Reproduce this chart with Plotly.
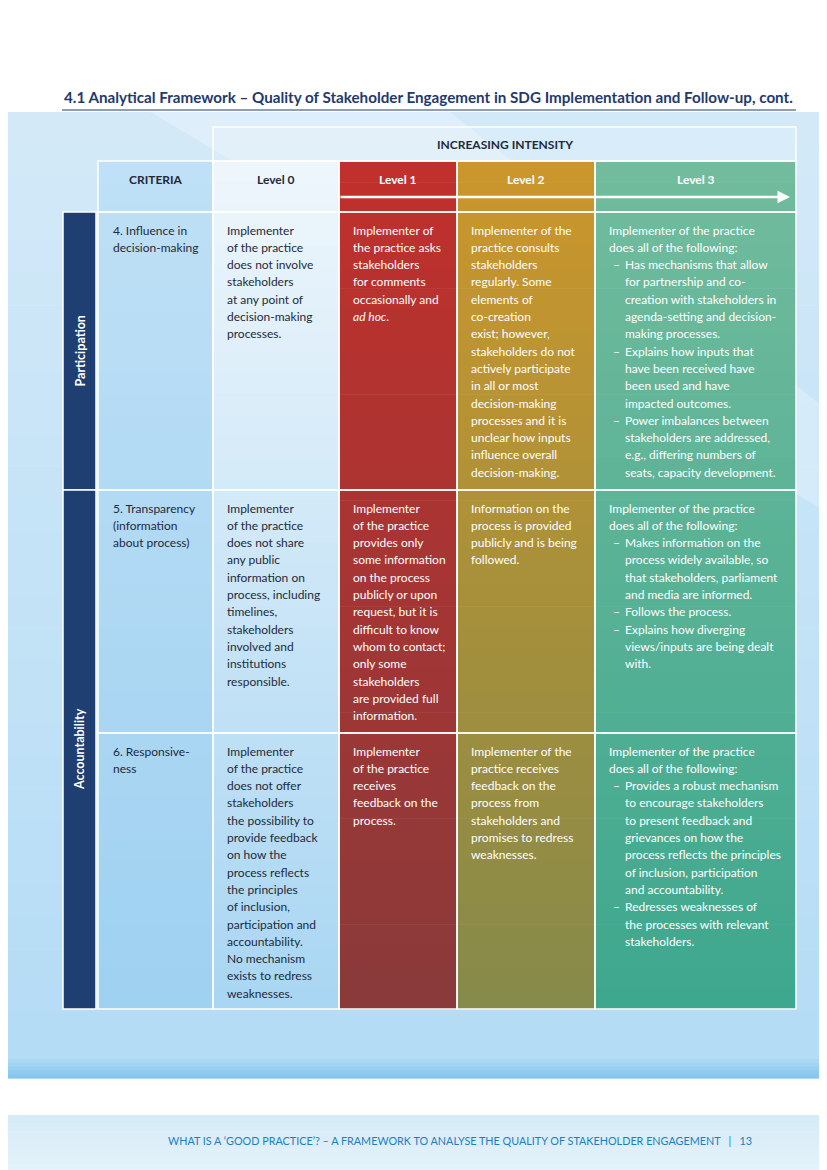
import plotly.graph_objects as go

# ---- data ----
title = "4.1 Analytical Framework – Quality of Stakeholder Engagement in SDG Implementation and Follow-up, cont."
footer = "WHAT IS A ‘GOOD PRACTICE’? – A FRAMEWORK TO ANALYSE THE QUALITY OF STAKEHOLDER ENGAGEMENT"
page_no = "13"
levels = ["Level 0", "Level 1", "Level 2", "Level 3"]
groups = ["Participation", "Accountability"]

criteria = [
    ["4. Influence in", "decision-making"],
    ["5. Transparency", "(information", "about process)"],
    ["6. Responsive-", "ness"],
]
level0 = [
    ["Implementer", "of the practice", "does not involve", "stakeholders", "at any point of",
     "decision-making", "processes."],
    ["Implementer", "of the practice", "does not share", "any public", "information on",
     "process, including", "timelines,", "stakeholders", "involved and", "institutions", "responsible."],
    ["Implementer", "of the practice", "does not offer", "stakeholders", "the possibility to",
     "provide feedback", "on how the", "process reflects", "the principles", "of inclusion,",
     "participation and", "accountability.", "No mechanism", "exists to redress", "weaknesses."],
]
level1 = [
    ["Implementer of", "the practice asks", "stakeholders", "for comments", "occasionally and", "<i>ad hoc</i>."],
    ["Implementer", "of the practice", "provides only", "some information", "on the process",
     "publicly or upon", "request, but it is", "difficult to know", "whom to contact;", "only some",
     "stakeholders", "are provided full", "information."],
    ["Implementer", "of the practice", "receives", "feedback on the", "process."],
]
level2 = [
    ["Implementer of the", "practice consults", "stakeholders", "regularly. Some", "elements of",
     "co-creation", "exist; however,", "stakeholders do not", "actively participate", "in all or most",
     "decision-making", "processes and it is", "unclear how inputs", "influence overall", "decision-making."],
    ["Information on the", "process is provided", "publicly and is being", "followed."],
    ["Implementer of the", "practice receives", "feedback on the", "process from", "stakeholders and",
     "promises to redress", "weaknesses."],
]
level3_intro = ["Implementer of the practice", "does all of the following:"]
level3_bullets = [
    [["Has mechanisms that allow", "for partnership and co-", "creation with stakeholders in",
      "agenda-setting and decision-", "making processes."],
     ["Explains how inputs that", "have been received have", "been used and have", "impacted outcomes."],
     ["Power imbalances between", "stakeholders are addressed,", "e.g., differing numbers of",
      "seats, capacity development."]],
    [["Makes information on the", "process widely available, so", "that stakeholders, parliament",
      "and media are informed."],
     ["Follows the process."],
     ["Explains how diverging", "views/inputs are being dealt", "with."]],
    [["Provides a robust mechanism", "to encourage stakeholders", "to present feedback and",
      "grievances on how the", "process reflects the principles", "of inclusion, participation",
      "and accountability."],
     ["Redresses weaknesses of", "the processes with relevant", "stakeholders."]],
]

# ---- geometry (page pixels) ----
col_x = [63, 98, 213, 339, 457, 595, 796]
row_y = [212, 490, 733, 1009]
group_rows = [(212, 490), (490, 1009)]
LH = 17.3
FONT = "Lato"
DARK = "#1e2a3a"
NAVY = "#1f3f73"
OFF = 8  # page body margin in the browser

shapes = []
ann = []


def hexmix(a, b, t):
    a = [int(a[i:i + 2], 16) for i in (1, 3, 5)]
    b = [int(b[i:i + 2], 16) for i in (1, 3, 5)]
    return "#%02x%02x%02x" % tuple(round(a[k] + (b[k] - a[k]) * t) for k in range(3))


def gradient(x0, x1, y0, y1, ctop, cbot, n=40):
    h = (y1 - y0) / n
    for i in range(n):
        shapes.append(dict(type="rect", xref="x", yref="y", x0=x0, x1=x1,
                           y0=y0 + i * h, y1=y0 + (i + 1) * h + 0.6,
                           fillcolor=hexmix(ctop, cbot, i / (n - 1)), line_width=0, layer="below"))


def rect(x0, x1, y0, y1, fill="rgba(0,0,0,0)", line="white", lw=1.5):
    shapes.append(dict(type="rect", xref="x", yref="y", x0=x0, x1=x1, y0=y0, y1=y1,
                       fillcolor=fill, line=dict(color=line, width=lw), layer="below"))


def text(x, y, s, color=DARK, size=12, bold=False, anchor="left", **kw):
    ann.append(dict(x=x, y=y, xref="x", yref="y", text=f"<b>{s}</b>" if bold else s,
                    showarrow=False, xanchor=anchor, yanchor="middle",
                    font=dict(family=FONT, size=size, color=color), **kw))


def lines(x, y, ls, color=DARK):
    for i, s in enumerate(ls):
        text(x, y + i * LH, s, color)
    return y + len(ls) * LH


# page background
gradient(-10, 840, 112, 1078, "#d3e9f8", "#b4dcf5", 30)
gradient(-10, 840, 1055, 1078, "#b4dcf5", "#86c6ee", 6)
gradient(-10, 840, 1115, 1180, "#d6ebf8", "#e6f3fb", 8)
shapes.append(dict(type="path", xref="x", yref="y", path="M 150 112 L 450 112 L 840 420 L 840 520 Z",
                   fillcolor="rgba(255,255,255,0.25)", line_width=0, layer="below"))

# column gradients
gradient(col_x[1], col_x[2], 161, 1009, "#bfe0f6", "#9fd1f1")
gradient(col_x[2], col_x[3], 161, 1009, "#eef6fc", "#a9d6f2")
gradient(col_x[3], col_x[4], 161, 1009, "#c0302c", "#8a3a3b")
gradient(col_x[4], col_x[5], 161, 1009, "#cb962c", "#868a4a")
gradient(col_x[5], col_x[6], 161, 1009, "#72bb9d", "#3ea88e")

# header
rect(col_x[2], col_x[6], 127, 161, fill="rgba(255,255,255,0.15)")
text((col_x[2] + col_x[6]) / 2, 144, "INCREASING INTENSITY", bold=True, size=12, anchor="center")
rect(col_x[1], col_x[2], 161, 212)
text((col_x[1] + col_x[2]) / 2, 179, "CRITERIA", bold=True, anchor="center")
for i, lv in enumerate(levels):
    x0, x1 = col_x[i + 2], col_x[i + 3]
    rect(x0, x1, 161, 212)
    text((x0 + x1) / 2, 179, lv, color=DARK if i == 0 else "white", bold=True, anchor="center")
ann.append(dict(x=790, y=197, ax=339, ay=197, xref="x", yref="y", axref="x", ayref="y",
                showarrow=True, arrowhead=2, arrowsize=1, arrowwidth=2.5, arrowcolor="white", text=""))

# side group bands
for g, (y0, y1) in zip(groups, group_rows):
    shapes.append(dict(type="rect", xref="x", yref="y", x0=col_x[0], x1=col_x[1] - 2, y0=y0, y1=y1,
                       fillcolor=NAVY, line=dict(color="white", width=1.5), layer="below"))
    text((col_x[0] + col_x[1] - 2) / 2, (y0 + y1) / 2, g, color="white", bold=True, size=12.5,
         anchor="center", textangle=-90)

# body rows
for r in range(3):
    y0, y1 = row_y[r], row_y[r + 1]
    for c in range(1, 6):
        rect(col_x[c], col_x[c + 1], y0, y1)
    ty = y0 + 18
    lines(111, ty, criteria[r])
    lines(225, ty, level0[r])
    lines(351, ty, level1[r], "white")
    lines(469, ty, level2[r], "white")
    yy = lines(607, ty, level3_intro, "white")
    for b in level3_bullets[r]:
        text(611, yy, "–", "white")
        yy = lines(623, yy, b, "white")

# title and footer
text(62, 97, title, color="#1f3a6b", bold=True, size=15.2)
shapes.append(dict(type="line", xref="x", yref="y", x0=62, x1=796, y0=110, y1=110,
                   line=dict(color="#1f3a6b", width=1)))
text(754, 1140, footer + "&nbsp;&nbsp;&nbsp;|&nbsp;&nbsp;&nbsp;" + page_no, color="#1b7fbf",
     size=10.8, anchor="right")

fig = go.Figure()
fig.update_layout(width=827, height=1170, margin=dict(l=0, r=0, t=0, b=0),
                  paper_bgcolor="white", plot_bgcolor="white", showlegend=False,
                  shapes=shapes, annotations=ann)
fig.update_xaxes(range=[OFF, 827 + OFF], visible=False, fixedrange=True)
fig.update_yaxes(range=[1170 + OFF, OFF], visible=False, fixedrange=True)
fig.write_html("out.html")
